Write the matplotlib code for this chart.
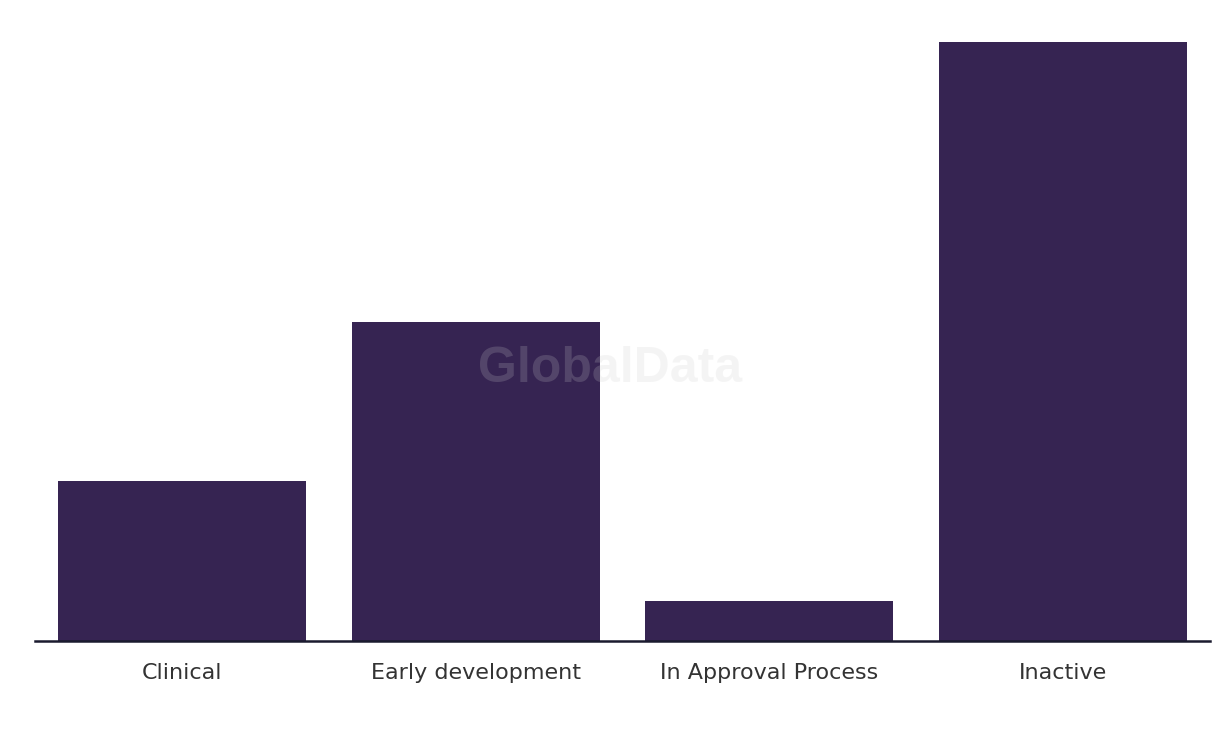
import matplotlib
matplotlib.use('Agg')
import matplotlib.pyplot as plt

categories = ['Clinical', 'Early development', 'In Approval Process', 'Inactive']
values = [4, 8, 1, 15]

fig = plt.figure(figsize=(12.2, 7.36), dpi=100)
ax = fig.add_axes([35 / 1220, 1 - 641 / 736, 1175 / 1220, 599 / 736])

ax.bar(range(len(categories)), values, width=0.845, color='#362452', zorder=2)
ax.set_xlim(-0.5, len(categories) - 0.5)
ax.set_ylim(0, 15)

for s in ['top', 'right', 'left']:
    ax.spines[s].set_visible(False)
ax.spines['bottom'].set_color('#1a1a2e')
ax.spines['bottom'].set_linewidth(1.8)
ax.spines['bottom'].set_zorder(3)
ax.set_yticks([])
ax.set_xticks(range(len(categories)))
ax.set_xticklabels(categories, fontsize=16, color='#333333', family='DejaVu Sans')
ax.tick_params(axis='x', length=0, pad=16)

fig.text(610 / 1220, 1 - 369 / 736, 'GlobalData', fontsize=36, fontweight='bold',
         color='#cccccc', alpha=0.2, ha='center', va='center', family='Liberation Sans', zorder=5)

fig.savefig('out.png', dpi=100)
